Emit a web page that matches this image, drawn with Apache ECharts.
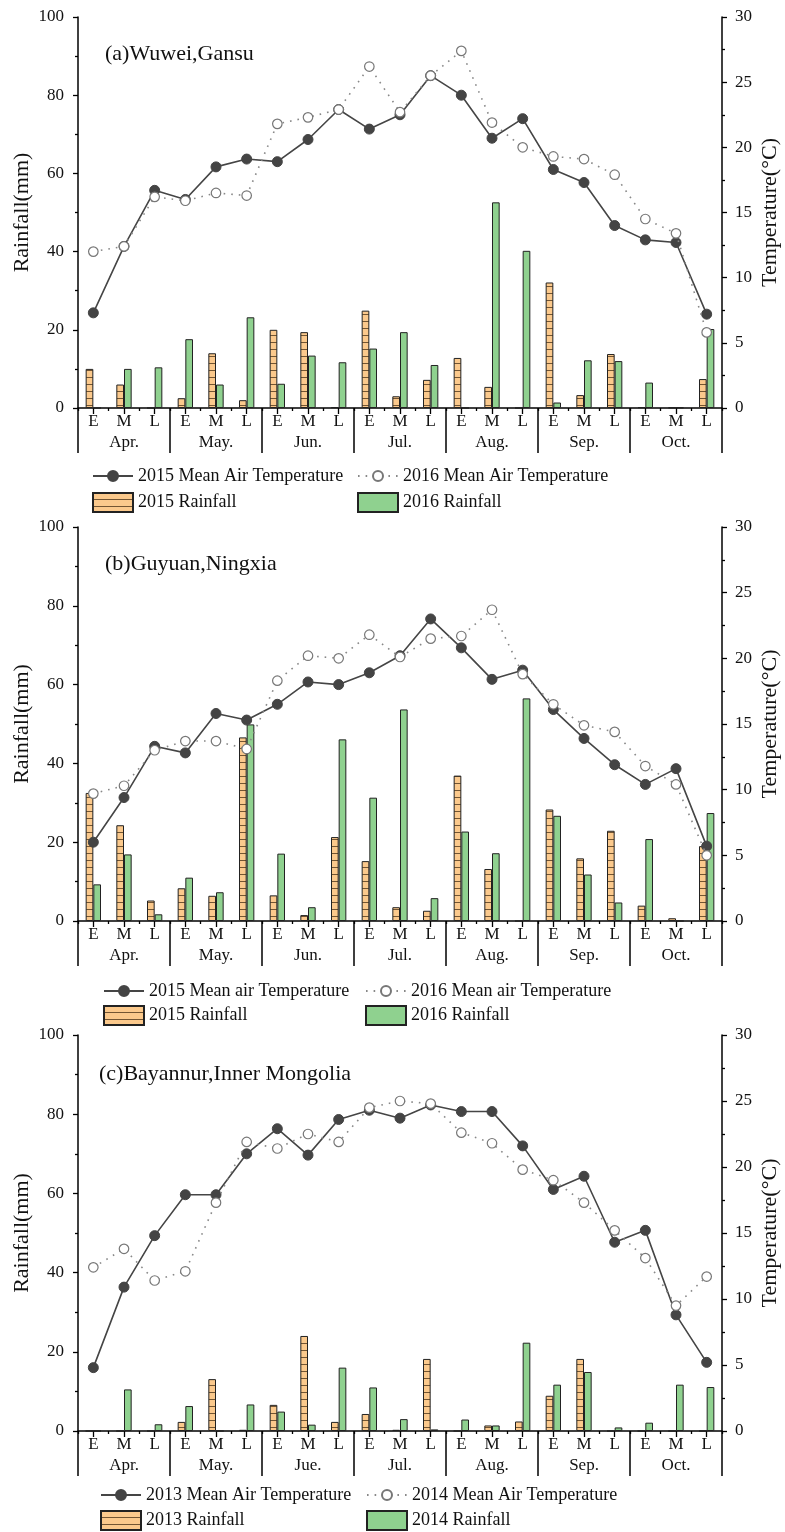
<!DOCTYPE html>
<html>
<head>
<meta charset="utf-8">
<script src="https://cdn.jsdelivr.net/npm/echarts@6/dist/echarts.min.js"></script>
<style>
  html, body { margin: 0; padding: 0; background: #fff; }
  #chart { width: 785px; height: 1532px; }
</style>
</head>
<body>
<div id="chart"></div>
<script>
// Ten-day periods (Early / Middle / Late) for each month, April to October
const periods = ['E','M','L','E','M','L','E','M','L','E','M','L','E','M','L','E','M','L','E','M','L'];
const monthsA = ['Apr.', 'May.', 'Jun.', 'Jul.', 'Aug.', 'Sep.', 'Oct.'];
const monthsC = ['Apr.', 'May.', 'Jue.', 'Jul.', 'Aug.', 'Sep.', 'Oct.'];

// (a) Wuwei, Gansu
const rain2015A = [10.0, 6.0, 0, 2.5, 14.0, 2.0, 20.0, 19.4, 0.2, 24.9, 3.0, 7.2, 12.8, 5.4, 0, 32.1, 3.3, 13.8, 0.2, 0.1, 7.4];
const rain2016A = [0, 10.0, 10.4, 17.6, 6.0, 23.2, 6.2, 13.4, 11.7, 15.2, 19.4, 11.0, 0, 52.6, 40.2, 1.4, 12.2, 12.0, 6.5, 0.1, 20.2];
const temp2015A = [7.3, 12.4, 16.7, 16.0, 18.5, 19.1, 18.9, 20.6, 22.9, 21.4, 22.5, 25.5, 24.0, 20.7, 22.2, 18.3, 17.3, 14.0, 12.9, 12.7, 7.2];
const temp2016A = [12.0, 12.4, 16.2, 15.9, 16.5, 16.3, 21.8, 22.3, 22.9, 26.2, 22.7, 25.5, 27.4, 21.9, 20.0, 19.3, 19.1, 17.9, 14.5, 13.4, 5.8];

// (b) Guyuan, Ningxia
const rain2015B = [32.5, 24.3, 5.2, 8.3, 6.4, 46.6, 6.5, 1.5, 21.3, 15.2, 3.5, 2.6, 36.9, 13.2, 0, 28.3, 15.9, 22.9, 3.9, 0.7, 19.0];
const rain2016B = [9.3, 16.9, 1.7, 11.0, 7.3, 49.9, 17.1, 3.5, 46.1, 31.3, 53.7, 5.8, 22.7, 17.2, 56.5, 26.7, 11.8, 4.7, 20.8, 0, 27.4];
const temp2015B = [6.0, 9.4, 13.3, 12.8, 15.8, 15.3, 16.5, 18.2, 18.0, 18.9, 20.2, 23.0, 20.8, 18.4, 19.1, 16.1, 13.9, 11.9, 10.4, 11.6, 5.7];
const temp2016B = [9.7, 10.3, 13.0, 13.7, 13.7, 13.1, 18.3, 20.2, 20.0, 21.8, 20.1, 21.5, 21.7, 23.7, 18.8, 16.5, 14.9, 14.4, 11.8, 10.4, 5.0];

// (c) Bayannur, Inner Mongolia
const rain2013C = [0, 0, 0, 2.3, 13.1, 0.3, 6.6, 24.0, 2.3, 4.3, 0.3, 18.2, 0, 1.4, 2.4, 8.9, 18.2, 0, 0, 0, 0];
const rain2014C = [0, 10.5, 1.7, 6.3, 0, 6.7, 4.9, 1.6, 16.0, 11.0, 3.0, 0.4, 2.9, 1.4, 22.3, 11.7, 14.9, 0.9, 2.1, 11.7, 11.1];
const temp2013C = [4.8, 10.9, 14.8, 17.9, 17.9, 21.0, 22.9, 20.9, 23.6, 24.3, 23.7, 24.7, 24.2, 24.2, 21.6, 18.3, 19.3, 14.3, 15.2, 8.8, 5.2];
const temp2014C = [12.4, 13.8, 11.4, 12.1, 17.3, 21.9, 21.4, 22.5, 21.9, 24.5, 25.0, 24.8, 22.6, 21.8, 19.8, 19.0, 17.3, 15.2, 13.1, 9.5, 11.7];

const FONT = "'Liberation Serif', 'DejaVu Serif', serif";
const INK = '#111';
const ORANGE = '#fbc98c';
const GREEN = '#8fd18f';

// Orange fill with thin horizontal rules for the earlier-year rainfall bars
function stripes() {
  const c = document.createElement('canvas');
  c.width = 8; c.height = 7;
  const g = c.getContext('2d');
  g.fillStyle = ORANGE; g.fillRect(0, 0, 8, 7);
  g.fillStyle = 'rgba(70,45,20,0.75)'; g.fillRect(0, 6, 8, 1);
  return c;
}
const stripePattern = { image: stripes(), repeat: 'repeat' };

const panels = [
  { title: '(a)Wuwei,Gansu', titlePos: [105, 43], top: 17, height: 391,
    months: monthsA, rainOld: rain2015A, rainNew: rain2016A, tempOld: temp2015A, tempNew: temp2016A,
    names: ['2015 Mean Air Temperature', '2016 Mean Air Temperature', '2015 Rainfall', '2016 Rainfall'],
    legend: { row1: 467, row2: 492, x1: 92, x2: 357 } },
  { title: '(b)Guyuan,Ningxia', titlePos: [105, 553], top: 527, height: 394,
    months: monthsA, rainOld: rain2015B, rainNew: rain2016B, tempOld: temp2015B, tempNew: temp2016B,
    names: ['2015 Mean air Temperature', '2016 Mean air Temperature', '2015 Rainfall', '2016 Rainfall'],
    legend: { row1: 982, row2: 1005, x1: 103, x2: 365 } },
  { title: '(c)Bayannur,Inner Mongolia', titlePos: [99, 1063], top: 1035, height: 396,
    months: monthsC, rainOld: rain2013C, rainNew: rain2014C, tempOld: temp2013C, tempNew: temp2014C,
    names: ['2013 Mean Air Temperature', '2014 Mean Air Temperature', '2013 Rainfall', '2014 Rainfall'],
    legend: { row1: 1486, row2: 1510, x1: 100, x2: 366 } }
];

const option = {
  animation: false,
  backgroundColor: '#fff',
  textStyle: { fontFamily: FONT, color: INK },
  title: [], grid: [], xAxis: [], yAxis: [], series: [], legend: []
};

const axisLine = { show: true, lineStyle: { color: '#000', width: 1.5 } };
const tickStyle = { color: '#000', width: 1.3 };
const labelStyle = { fontFamily: FONT, fontSize: 17, color: INK };

panels.forEach((p, i) => {
  option.title.push({
    text: p.title, left: p.titlePos[0], top: p.titlePos[1], padding: 0,
    textStyle: { fontFamily: FONT, fontSize: 22, fontWeight: 'normal', color: INK }
  });
  option.grid.push({ left: 78, right: 63, top: p.top, height: p.height,
    containLabel: false, outerBoundsMode: 'none' });

  // period axis (E/M/L) with ticks under each period
  option.xAxis.push({
    type: 'category', gridIndex: i, data: periods, position: 'bottom',
    axisLine: axisLine,
    axisTick: { show: true, alignWithLabel: true, length: 6, interval: 0, lineStyle: tickStyle },
    axisLabel: Object.assign({ interval: 0, margin: 5 }, labelStyle),
    splitLine: { show: false }
  });
  // short ticks between periods
  option.xAxis.push({
    type: 'category', gridIndex: i, data: periods, position: 'bottom',
    axisLine: { show: false },
    axisTick: { show: true, length: 3, interval: 0, lineStyle: tickStyle },
    axisLabel: { show: false }, splitLine: { show: false }
  });
  // month axis: long separators between months
  option.xAxis.push({
    type: 'category', gridIndex: i, data: p.months, position: 'bottom',
    axisLine: { show: false },
    axisTick: { show: true, length: 45, interval: 0, lineStyle: { color: '#000', width: 1.5 } },
    axisLabel: Object.assign({ interval: 0, margin: 26 }, labelStyle),
    splitLine: { show: false }
  });

  option.yAxis.push({
    type: 'value', gridIndex: i, position: 'left', min: 0, max: 100, interval: 20,
    axisLine: axisLine,
    axisTick: { show: true, length: 5, lineStyle: tickStyle },
    minorTick: { show: true, splitNumber: 2, length: 3, lineStyle: tickStyle },
    axisLabel: Object.assign({ margin: 14 }, labelStyle),
    splitLine: { show: false },
    name: 'Rainfall(mm)', nameLocation: 'middle', nameRotate: 90, nameGap: 45,
    nameMoveOverlap: false,
    nameTextStyle: { fontFamily: FONT, fontSize: 22, color: INK }
  });
  option.yAxis.push({
    type: 'value', gridIndex: i, position: 'right', min: 0, max: 30, interval: 5,
    axisLine: axisLine,
    axisTick: { show: true, length: 5, lineStyle: tickStyle },
    minorTick: { show: true, splitNumber: 2, length: 3, lineStyle: tickStyle },
    axisLabel: Object.assign({ margin: 13 }, labelStyle),
    splitLine: { show: false },
    name: 'Temperature(°C)', nameLocation: 'middle', nameRotate: 90, nameGap: 37,
    nameMoveOverlap: false,
    nameTextStyle: { fontFamily: FONT, fontSize: 22, color: INK }
  });

  const xi = i * 3, yi = i * 2;
  option.series.push({
    name: p.names[2], type: 'bar', xAxisIndex: xi, yAxisIndex: yi, data: p.rainOld,
    barWidth: '25%', barGap: '0%', z: 2,
    itemStyle: { color: stripePattern, borderColor: '#222', borderWidth: 1 }
  });
  option.series.push({
    name: p.names[3], type: 'bar', xAxisIndex: xi, yAxisIndex: yi, data: p.rainNew,
    barWidth: '25%', barGap: '0%', z: 2,
    itemStyle: { color: GREEN, borderColor: '#222', borderWidth: 1 }
  });
  option.series.push({
    name: p.names[0], type: 'line', xAxisIndex: xi, yAxisIndex: yi + 1, data: p.tempOld,
    symbol: 'circle', symbolSize: 10, z: 3,
    itemStyle: { color: '#444', borderColor: '#444', borderWidth: 1 },
    lineStyle: { color: '#454545', width: 1.6 }
  });
  option.series.push({
    name: p.names[1], type: 'line', xAxisIndex: xi, yAxisIndex: yi + 1, data: p.tempNew,
    symbol: 'circle', symbolSize: 9.5, z: 4,
    itemStyle: { color: '#fff', borderColor: '#777', borderWidth: 1.2 },
    lineStyle: { color: '#888', width: 1.6, type: [1.6, 6] }
  });

  const L = p.legend;
  const legendText = { fontFamily: FONT, fontSize: 18, color: INK };
  const lineLeg = (name, x, y) => ({
    data: [name], left: x, top: y, padding: 0, itemWidth: 40, itemHeight: 12.5,
    selectedMode: false, textStyle: legendText
  });
  const barLeg = (name, x, y) => ({
    data: [name], left: x, top: y, padding: 0, itemWidth: 40, itemHeight: 19,
    icon: 'rect', selectedMode: false, textStyle: legendText
  });
  option.legend.push(lineLeg(p.names[0], L.x1, L.row1));
  option.legend.push(lineLeg(p.names[1], L.x2, L.row1));
  option.legend.push(barLeg(p.names[2], L.x1, L.row2));
  option.legend.push(barLeg(p.names[3], L.x2, L.row2));
});

const chart = echarts.init(document.getElementById('chart'), null, { renderer: 'canvas' });
chart.setOption(option);
</script>
</body>
</html>
